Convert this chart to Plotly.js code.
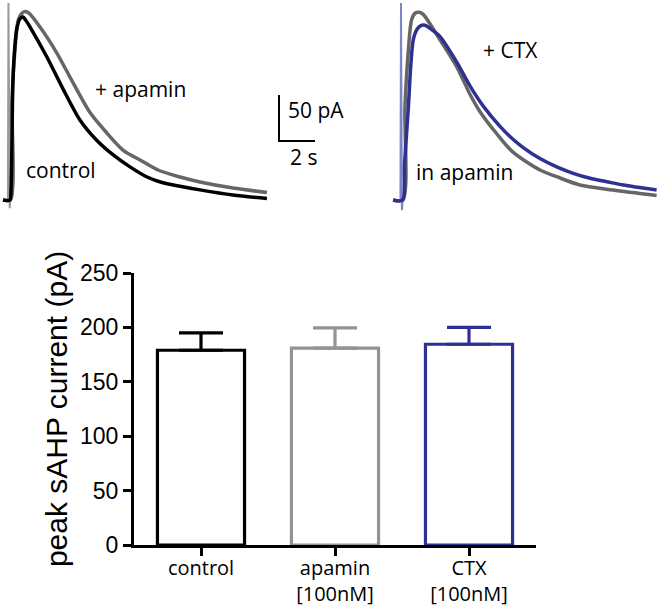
<!DOCTYPE html>
<html>
<head>
<meta charset="utf-8">
<script src="https://cdn.plot.ly/plotly-3.0.1.min.js"></script>
<style>
  html, body { margin: 0; padding: 0; background: #ffffff; }
  #chart { width: 660px; height: 612px; }
</style>
</head>
<body>
<div id="chart"></div>
<script>
// ---------- Bar chart data ----------
const categories = ['control', 'apamin<br>[100nM]', 'CTX<br>[100nM]'];
const peakCurrent = [179, 181, 184.5];     // pA (mean)
const peakError   = [16, 18.5, 15.5];       // pA (SEM, upper only)
const barColors   = ['#000000', '#939393', '#2e3192'];
const yTicks      = [0, 50, 100, 150, 200, 250];

// ---------- Example traces (time in s, current in pA) ----------
// Left panel: control vs + apamin
const ctrlT = [-0.33, 0.05, 0.11, 0.22, 0.33, 0.44, 0.61, 0.78, 0.94, 1.26, 2.09, 3.02, 3.94, 4.87, 5.79, 6.72, 7.67, 8.5, 9.5, 10.61, 12.44, 14.33];
const ctrlI = [0, 0, 11, 130, 168, 187, 197, 199, 195, 185, 156, 120, 87, 65, 49, 36, 25, 19, 15, 11, 5.4, 1.6];

const apaT = [-0.33, 0.07, 0.17, 0.33, 0.52, 0.72, 0.89, 1.11, 1.72, 2.65, 3.57, 4.5, 5.43, 6.35, 7.28, 8.28, 9.5, 10.61, 12.44, 14.33];
const apaI = [0, 0, 109, 163, 196, 203, 205, 203, 188, 160, 127, 95, 73, 54, 43.5, 32.6, 25, 19.6, 13, 8.2];

// stimulus artefacts
const leftArtT = [-0.06, -0.03, 0.04, 0.07];
const leftArtI = [0, 214, -9, 0];
const rightArtT = [-0.03, 0.0, 0.05, 0.09];
const rightArtI = [0, 214, -11, 0];

// Right panel: in apamin vs + CTX
const inApaT = [-0.44, 0.1, 0.22, 0.41, 0.59, 0.78, 1.0, 1.22, 2.17, 3.09, 3.83, 4.39, 5.32, 6.22, 7.72, 8.65, 9.94, 11.78, 14.2];
const inApaI = [0, 0, 101, 163, 196, 203, 204, 202, 174, 145, 115, 96, 72, 52, 32.6, 25.3, 16.3, 10.9, 4.9];

const ctxT = [-0.44, 0.09, 0.2, 0.41, 0.54, 0.68, 0.87, 1.06, 1.33, 1.72, 2.17, 3.09, 3.83, 4.57, 5.5, 6.22, 6.79, 7.72, 8.65, 9.57, 10.5, 11.43, 12.35, 14.2];
const ctxI = [0, 0, 40, 101, 145, 174, 185, 189, 190, 185, 177.5, 150, 124, 102, 80, 66, 57, 45, 36, 29, 23.6, 19.9, 16.3, 10.9];

// Scale bar: 50 pA / 2 s
const scaleBarT = [15, 15, 17];
const scaleBarI = [114, 64, 64];

// ---------- Traces ----------
const data = [];
const lineTrace = (x, y, ax, ay, color, width, shape) => ({
  x: x, y: y, xaxis: ax, yaxis: ay, type: 'scatter', mode: 'lines',
  line: {color: color, width: width, shape: shape || 'linear', smoothing: 0.8},
  hoverinfo: 'skip', showlegend: false, cliponaxis: false
});

// top-left
data.push(lineTrace(leftArtT, leftArtI, 'x2', 'y2', '#9a9a9a', 2));
data.push(lineTrace(apaT, apaI, 'x2', 'y2', '#666666', 3.5, 'spline'));
data.push(lineTrace(ctrlT, ctrlI, 'x2', 'y2', '#000000', 3.5, 'spline'));
data.push(lineTrace(scaleBarT, scaleBarI, 'x2', 'y2', '#000000', 2));

// top-right
data.push(lineTrace(rightArtT, rightArtI, 'x3', 'y3', '#7f84c4', 2));
data.push(lineTrace(inApaT, inApaI, 'x3', 'y3', '#666666', 3.5, 'spline'));
data.push(lineTrace(ctxT, ctxI, 'x3', 'y3', '#2e3192', 3.5, 'spline'));

// bars
for (let i = 0; i < categories.length; i++) {
  data.push({
    type: 'bar', x: [categories[i]], y: [peakCurrent[i]], width: 0.65,
    marker: {color: '#ffffff', line: {color: barColors[i], width: 3.2}},
    error_y: {type: 'data', symmetric: false, array: [peakError[i]], arrayminus: [0],
              color: barColors[i], thickness: 3.2, width: 22},
    showlegend: false, hoverinfo: 'skip'
  });
}

const W = 660, H = 612;
const px = v => v / W;
const py = v => 1 - v / H;

const hidden = {showgrid: false, zeroline: false, showline: false, showticklabels: false, ticks: '', fixedrange: true};

const txtFont = {family: 'Open Sans, Noto Sans, sans-serif', size: 21, color: '#000'};

const layout = {
  width: W, height: H,
  margin: {l: 0, r: 0, t: 0, b: 0},
  paper_bgcolor: '#ffffff', plot_bgcolor: 'rgba(0,0,0,0)',
  barmode: 'overlay',
  showlegend: false,
  xaxis: {
    domain: [px(134), px(536)], range: [-0.5, 2.5], type: 'category',
    showline: true, linecolor: '#000', linewidth: 3,
    ticks: 'outside', ticklen: 8, tickwidth: 3, tickcolor: '#000',
    ticklabelstandoff: -5,
    tickfont: {family: 'Open Sans, Noto Sans, sans-serif', size: 20, color: '#000'},
    showgrid: false, zeroline: false, anchor: 'y', fixedrange: true
  },
  yaxis: {
    domain: [py(545), py(273)], range: [0, 250],
    tickvals: yTicks,
    showline: true, linecolor: '#000', linewidth: 3,
    ticks: 'outside', ticklen: 8, tickwidth: 3, tickcolor: '#000',
    tickfont: {family: 'Liberation Sans, Arial, sans-serif', size: 23, color: '#000'},
    title: {text: 'peak sAHP current (pA)', font: {family: 'Liberation Sans, Arial, sans-serif', size: 30, color: '#000'}, standoff: 4},
    showgrid: false, zeroline: false, anchor: 'x', fixedrange: true
  },
  xaxis2: Object.assign({}, hidden, {domain: [0, px(330)], range: [-0.5, 17.8333], anchor: 'y2'}),
  yaxis2: Object.assign({}, hidden, {domain: [py(215), 1], range: [-16.304, 217.391], anchor: 'x2'}),
  xaxis3: Object.assign({}, hidden, {domain: [px(380), 1], range: [-1.1667, 14.389], anchor: 'y3'}),
  yaxis3: Object.assign({}, hidden, {domain: [py(215), 1], range: [-16.304, 217.391], anchor: 'x3'}),
  annotations: [
    {text: '+ apamin', xref: 'paper', yref: 'paper', x: px(93), y: py(89), xanchor: 'left', yanchor: 'middle', showarrow: false, font: txtFont},
    {text: 'control', xref: 'paper', yref: 'paper', x: px(24), y: py(170), xanchor: 'left', yanchor: 'middle', showarrow: false, font: txtFont},
    {text: '50 pA', xref: 'paper', yref: 'paper', x: px(286), y: py(110), xanchor: 'left', yanchor: 'middle', showarrow: false, font: txtFont},
    {text: '2 s', xref: 'paper', yref: 'paper', x: px(303), y: py(157), xanchor: 'center', yanchor: 'middle', showarrow: false, font: txtFont},
    {text: '+ CTX', xref: 'paper', yref: 'paper', x: px(481), y: py(50), xanchor: 'left', yanchor: 'middle', showarrow: false, font: txtFont},
    {text: 'in apamin', xref: 'paper', yref: 'paper', x: px(414), y: py(172), xanchor: 'left', yanchor: 'middle', showarrow: false, font: txtFont}
  ]
};

Plotly.newPlot('chart', data, layout, {staticPlot: true, displayModeBar: false});
</script>
</body>
</html>
